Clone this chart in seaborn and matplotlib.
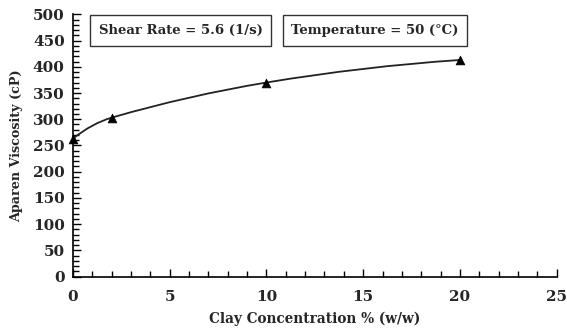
import numpy as np
import pandas as pd
import seaborn as sns
import matplotlib
matplotlib.use("Agg")
import matplotlib.pyplot as plt
from matplotlib.path import Path
from matplotlib.patches import PathPatch
from matplotlib.ticker import MultipleLocator

clay = [0, 2, 10, 20]
viscosity = [263, 303, 370, 413]
xlabel = "Clay Concentration % (w/w)"
ylabel = "Aparen Viscosity (cP)"
box1 = "Shear Rate = 5.6 (1/s)"
box2 = "Temperature = 50 (°C)"

sns.set_theme(style="ticks")
plt.rcParams['font.family'] = ['DejaVu Serif']
plt.rcParams['font.weight'] = 'bold'

fig = plt.figure(figsize=(5.67, 3.34), dpi=100)
ax = fig.add_axes([0.1287, 0.172, 0.853, 0.785])

df = pd.DataFrame({"clay": clay, "visc": viscosity})

# smoothed line: cubic Hermite (Bezier) through the data points
x = df["clay"].to_numpy(float)
y = df["visc"].to_numpy(float)
n = len(x)
sec = np.diff(y) / np.diff(x)
m = np.zeros(n)
for i in range(1, n - 1):
    m[i] = (y[i + 1] - y[i - 1]) / (x[i + 1] - x[i - 1])
m[0] = 2 * sec[0] - m[1]
m[-1] = 2 * sec[-1] - m[-2]
verts = [(x[0], y[0])]
codes = [Path.MOVETO]
for i in range(n - 1):
    h = x[i + 1] - x[i]
    verts += [(x[i] + h / 3, y[i] + m[i] * h / 3),
              (x[i + 1] - h / 3, y[i + 1] - m[i + 1] * h / 3),
              (x[i + 1], y[i + 1])]
    codes += [Path.CURVE4] * 3
ax.add_patch(PathPatch(Path(verts, codes), facecolor='none', edgecolor='#222222', lw=1.3, zorder=2))

sns.scatterplot(data=df, x="clay", y="visc", marker="^", s=40, color="black",
                edgecolor="black", linewidth=0.5, ax=ax, zorder=3, clip_on=False)

ax.set_xlim(0, 25)
ax.set_ylim(0, 500)
ax.xaxis.set_major_locator(MultipleLocator(5))
ax.xaxis.set_minor_locator(MultipleLocator(1))
ax.yaxis.set_major_locator(MultipleLocator(50))
ax.yaxis.set_minor_locator(MultipleLocator(10))
ax.tick_params(which='both', direction='in', color='black', width=1)
ax.tick_params(which='major', length=6, labelsize=11)
ax.tick_params(axis='x', which='major', pad=10)
ax.tick_params(axis='y', which='major', pad=6)
ax.tick_params(which='minor', length=4)
for lab in ax.get_xticklabels() + ax.get_yticklabels():
    lab.set_fontweight('bold')
sns.despine(ax=ax)
for s in ['left', 'bottom']:
    ax.spines[s].set_color('black')
    ax.spines[s].set_linewidth(1.2)

ax.set_xlabel(xlabel, fontsize=9.8, fontweight='bold', labelpad=5)
ax.set_ylabel(ylabel, fontsize=9.2, fontweight='bold', labelpad=7)

bbox = dict(boxstyle='square,pad=0.65', facecolor='white', edgecolor='#333333', lw=1)
fig.text(180.5 / 567, 1 - 30.5 / 334, box1, ha='center', va='center', fontsize=9.5,
         fontweight='bold', bbox=bbox)
fig.text(375 / 567, 1 - 30.5 / 334, box2, ha='center', va='center', fontsize=9.5,
         fontweight='bold', bbox=bbox)

fig.savefig("out.png", dpi=100)
